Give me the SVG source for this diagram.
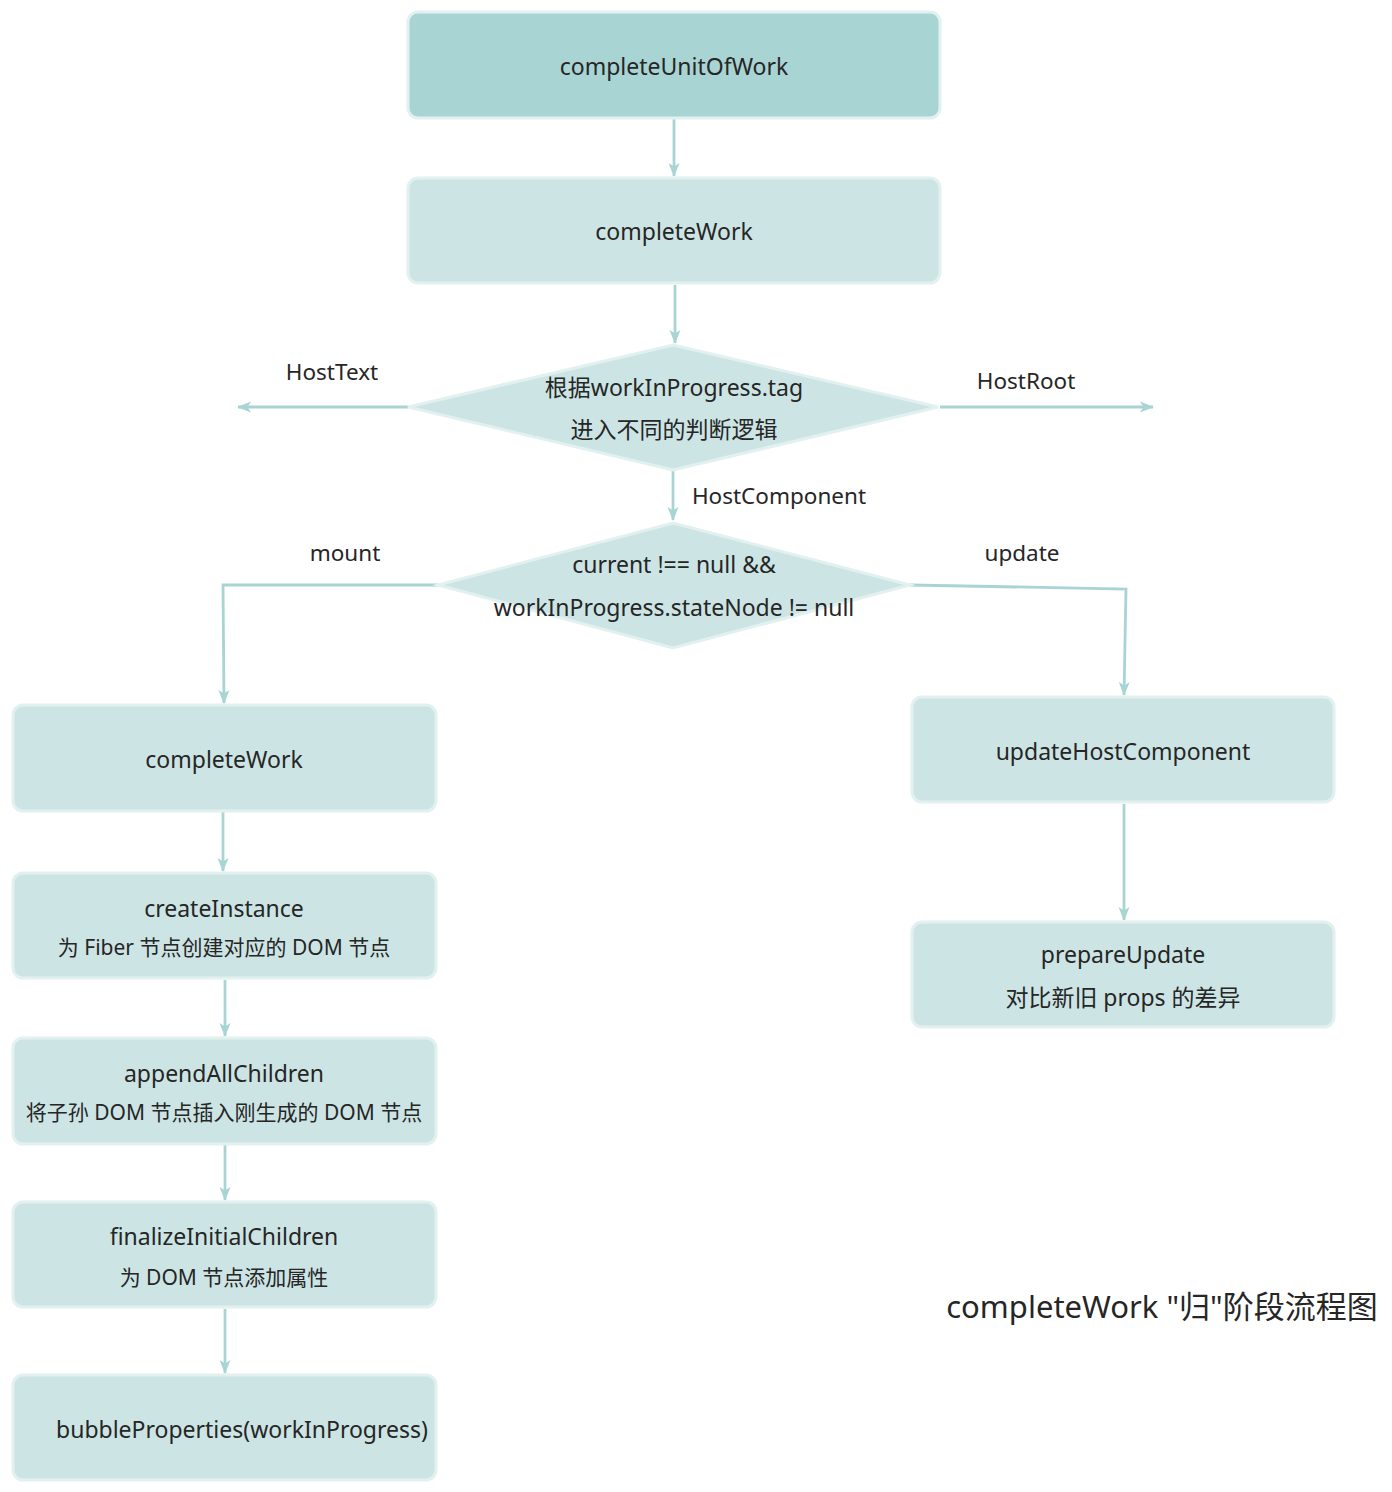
<svg xmlns="http://www.w3.org/2000/svg" width="1392" height="1492" viewBox="0 0 1392 1492">
<style>
text{font-family:"Noto Sans","Noto Sans CJK SC",sans-serif;fill:#262626;text-anchor:middle;dominant-baseline:central}
.t{font-size:23px}
.s{font-size:21px}
.lbl{font-size:22.5px}
.box{fill:#cce5e4;stroke:#e2f1f0;stroke-width:3}
.dark{fill:#a8d4d4}
.edge{fill:none;stroke:#a8d4d4;stroke-width:2.8}
</style>
<defs>
<marker id="ah" viewBox="0 0 14 12" refX="13" refY="6" markerWidth="14" markerHeight="12" markerUnits="userSpaceOnUse" orient="auto">
<path d="M0,0.5 L14,6 L0,11.5 L3.5,6 Z" fill="#a8d4d4"/>
</marker>
</defs>
<rect width="1392" height="1492" fill="#ffffff"/>
<g id="connectors">
<path class="edge" d="M674,119 L674,176" marker-end="url(#ah)"/>
<path class="edge" d="M675,285 L675,343" marker-end="url(#ah)"/>
<path class="edge" d="M408,407 L238,407" marker-end="url(#ah)"/>
<path class="edge" d="M940,407 L1153,407" marker-end="url(#ah)"/>
<path class="edge" d="M673,471 L673,520" marker-end="url(#ah)"/>
<path class="edge" d="M438,585 L223,585 L224,703" marker-end="url(#ah)"/>
<path class="edge" d="M910,585 L1126,589 L1124,695" marker-end="url(#ah)"/>
<path class="edge" d="M223,812 L223,871" marker-end="url(#ah)"/>
<path class="edge" d="M225,980 L225,1036" marker-end="url(#ah)"/>
<path class="edge" d="M225,1145 L225,1200" marker-end="url(#ah)"/>
<path class="edge" d="M225,1309 L225,1373" marker-end="url(#ah)"/>
<path class="edge" d="M1124,804 L1124,920" marker-end="url(#ah)"/>
<text class="lbl" x="332" y="371">HostText</text>
<text class="lbl" x="1026" y="380">HostRoot</text>
<text class="lbl" x="779" y="495">HostComponent</text>
<text class="lbl" x="345" y="552">mount</text>
<text class="lbl" x="1022" y="552">update</text>
</g>
<g id="completeUnitOfWork">
<rect class="box dark" x="408" y="12" width="532" height="106" rx="10"/>
<text class="t" x="674" y="66">completeUnitOfWork</text>
</g>
<g id="completeWork-top">
<rect class="box" x="408" y="178" width="532" height="105" rx="10"/>
<text class="t" x="674" y="231">completeWork</text>
</g>
<g id="tag-decision">
<polygon class="box" points="673,345 938,407 673,470 408,407"/>
<text class="t" x="674" y="387">根据workInProgress.tag</text>
<text class="t" x="674" y="429">进入不同的判断逻辑</text>
</g>
<g id="mount-decision">
<polygon class="box" points="673,523 910,585 673,648 438,585"/>
<text class="t" x="674" y="564">current !== null &amp;&amp;</text>
<text class="t" x="674" y="607">workInProgress.stateNode != null</text>
</g>
<g id="completeWork-mount">
<rect class="box" x="13" y="705" width="423" height="106" rx="10"/>
<text class="t" x="224" y="759">completeWork</text>
</g>
<g id="createInstance">
<rect class="box" x="13" y="873" width="423" height="105" rx="10"/>
<text class="t" x="224" y="908">createInstance</text>
<text class="s" x="224" y="947">为 Fiber 节点创建对应的 DOM 节点</text>
</g>
<g id="appendAllChildren">
<rect class="box" x="13" y="1038" width="423" height="106" rx="10"/>
<text class="t" x="224" y="1073">appendAllChildren</text>
<text class="s" x="224" y="1112">将子孙 DOM 节点插入刚生成的 DOM 节点</text>
</g>
<g id="finalizeInitialChildren">
<rect class="box" x="13" y="1202" width="423" height="105" rx="10"/>
<text class="t" x="224" y="1236">finalizeInitialChildren</text>
<text class="s" x="224" y="1277">为 DOM 节点添加属性</text>
</g>
<g id="bubbleProperties">
<rect class="box" x="13" y="1375" width="423" height="105" rx="10"/>
<text class="t" x="242" y="1429">bubbleProperties(workInProgress)</text>
</g>
<g id="updateHostComponent">
<rect class="box" x="912" y="697" width="422" height="105" rx="10"/>
<text class="t" x="1123" y="751">updateHostComponent</text>
</g>
<g id="prepareUpdate">
<rect class="box" x="912" y="922" width="422" height="105" rx="10"/>
<text class="t" x="1123" y="954">prepareUpdate</text>
<text class="t" x="1123" y="997">对比新旧 props 的差异</text>
</g>
<g id="title">
<text x="1162" y="1306" style="font-size:31px">completeWork "归"阶段流程图</text>
</g>
</svg>
